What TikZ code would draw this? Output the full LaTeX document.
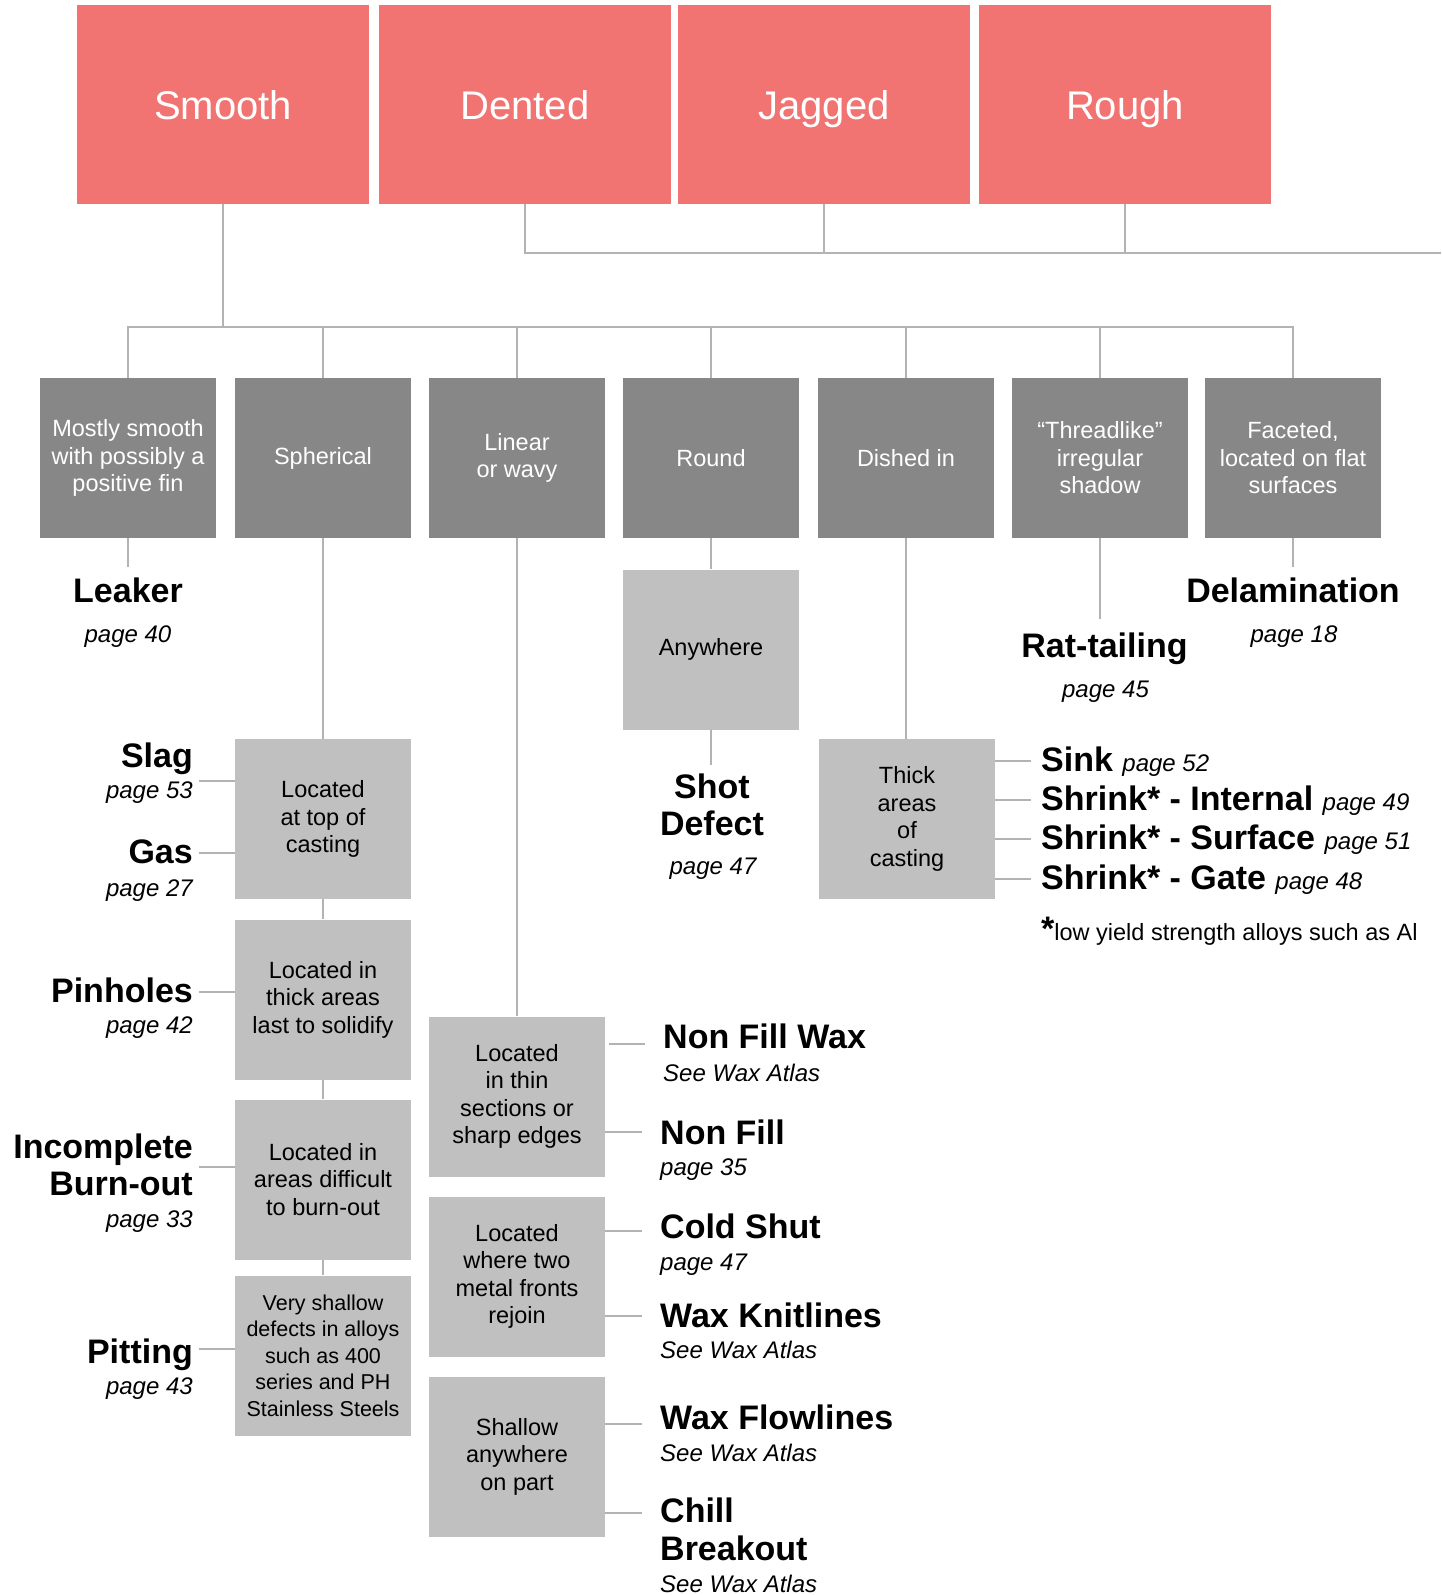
\documentclass[tikz,border=0pt]{standalone}
\usepackage{fontspec}
\setmainfont{Liberation Sans}

\definecolor{tierred}{HTML}{F27472}
\definecolor{shapegray}{HTML}{878787}
\definecolor{placegray}{HTML}{C0C0C0}
\definecolor{wiregray}{HTML}{B3B3B3}

\newcommand\dgTier{\fontsize{40}{48}\selectfont}
\newcommand\dgBox{\fontsize{23.5}{27.5}\selectfont}
\newcommand\dgSmall{\fontsize{21.5}{26.5}\selectfont}
\newcommand\dgDefect{\bfseries\fontsize{34}{37}\selectfont}
\newcommand\dgPage{\normalfont\itshape\fontsize{24}{28}\selectfont}

\begin{document}
\begin{tikzpicture}[x=1pt,y=-1pt,
  tier/.style={fill=tierred, text=white, minimum width=292pt, minimum height=199pt,
    inner sep=0pt, text height=29pt, text depth=0pt, font=\dgTier},
  kindbox/.style={fill=shapegray, text=white, minimum width=176pt, minimum height=160pt,
    inner sep=0pt, align=center, font=\dgBox},
  placebox/.style={fill=placegray, text=black, minimum width=176pt, minimum height=160pt,
    inner sep=0pt, align=center, font=\dgBox},
  wire/.style={draw=wiregray, line width=2pt},
  defect/.style={inner sep=0pt, font=\dgDefect},
  pageref/.style={inner sep=0pt, font=\dgPage},
]
\useasboundingbox (0,0) rectangle (1441,1595);

% surface texture categories
\node[tier] (smooth) at (223,104.5) {Smooth};
\node[tier] (dented) at (525,104.5) {Dented};
\node[tier] (jagged) at (824,104.5) {Jagged};
\node[tier] (rough)  at (1125,104.5) {Rough};

% shared bus for the non-smooth textures
\coordinate (rightbus) at (1441,253);
\draw[wire] (dented.south) |- (rightbus);
\draw[wire] (jagged.south) -- (jagged.south |- rightbus);
\draw[wire] (rough.south) -- (rough.south |- rightbus);

% defect shapes under "Smooth"
\node[kindbox] (fin)    at (128,458)  {Mostly smooth\\with possibly a\\positive fin};
\node[kindbox] (sphere) at (323,458)  {Spherical};
\node[kindbox] (linear) at (517,458)  {Linear\\or wavy};
\node[kindbox] (round)  at (711,458)  {Round};
\node[kindbox] (dished) at (906,458)  {Dished in};
\node[kindbox] (thread) at (1100,458) {“Threadlike”\\irregular\\shadow};
\node[kindbox] (facet)  at (1293,458) {Faceted,\\located on flat\\surfaces};

\coordinate (smoothbus) at (223,327);
\draw[wire] (smooth.south) -- (smoothbus);
\draw[wire] (fin.north) |- (facet.north |- smoothbus) -- (facet.north);
\foreach \k in {sphere,linear,round,dished,thread}
  \draw[wire] (\k.north) -- (\k.north |- smoothbus);

% direct results
\node[defect, anchor=base]  (leaker)   at (128,602)    {Leaker};
\node[pageref, anchor=base] (leakerpg) at (128,642.5)  {page 40};
\draw[wire, shorten >=10pt] (fin.south) -- (leaker.north);

\node[defect, anchor=base]  (delam)   at (1293,602)   {Delamination};
\node[pageref, anchor=base] (delampg) at (1294,642.5) {page 18};
\draw[wire, shorten >=10pt] (facet.south) -- (delam.north);

\node[defect, anchor=base]  (rat)   at (1104.5,657)   {Rat-tailing};
\node[pageref, anchor=base] (ratpg) at (1105.5,697.5) {page 45};
\draw[wire, shorten >=13pt] (thread.south) -- (thread.south |- rat.north);

% round -> anywhere -> shot defect
\node[placebox] (anywhere) at (711,649.5) {Anywhere};
\draw[wire] (round.south) -- (anywhere.north);
\node[defect, anchor=base]  (shot)   at (712,798)   {Shot};
\node[defect, anchor=base]  (shotb)  at (712,835)   {Defect};
\node[pageref, anchor=base] (shotpg) at (713,874.5) {page 47};
\draw[wire, shorten >=8pt] (anywhere.south) -- (anywhere.south |- shot.north);

% dished in -> thick areas -> shrink family
\node[placebox] (thick) at (907,819) {Thick\\areas\\of\\casting};
\draw[wire] (dished.south) -- (dished.south |- thick.north);
\node[defect, anchor=base west] (sink)     at (1041,771) {Sink {\dgPage page 52}};
\node[defect, anchor=base west] (internal) at (1041,810) {Shrink* - Internal {\dgPage page 49}};
\node[defect, anchor=base west] (surface)  at (1041,849) {Shrink* - Surface {\dgPage page 51}};
\node[defect, anchor=base west] (gate)     at (1041,889) {Shrink* - Gate {\dgPage page 48}};
\foreach \k in {sink,internal,surface,gate}
  \draw[wire, shorten >=10pt] (thick.east |- \k.west) -- (\k.west);
\node[anchor=base west, inner sep=0pt, font=\dgBox] (note) at (1041,940.5)
  {{\dgDefect *}low yield strength alloys such as Al};

% spherical chain
\node[placebox] (topcast)   at (323,819)    {Located\\at top of\\casting};
\node[placebox] (thickarea) at (323,999.5)  {Located in\\thick areas\\last to solidify};
\node[placebox] (burnarea)  at (323,1179.5) {Located in\\areas difficult\\to burn-out};
\node[placebox, font=\dgSmall] (shallowdef) at (323,1355.5)
  {Very shallow\\defects in alloys\\such as 400\\series and PH\\Stainless Steels};
\draw[wire] (sphere.south) -- (topcast.north);
\draw[wire] (topcast.south) -- (thickarea.north);
\draw[wire] (thickarea.south) -- (burnarea.north);
\draw[wire] (burnarea.south) -- (shallowdef.north);

\node[defect, anchor=base east]  (slag)     at (193,767)    {Slag};
\node[pageref, anchor=base east] (slagpg)   at (193,798.5)  {page 53};
\node[defect, anchor=base east]  (gas)      at (193,863)    {Gas};
\node[pageref, anchor=base east] (gaspg)    at (193,896.5)  {page 27};
\node[defect, anchor=base east]  (pinholes) at (193,1002)   {Pinholes};
\node[pageref, anchor=base east] (pinpg)    at (193,1033.5) {page 42};
\node[defect, anchor=base east]  (incomp)   at (193,1158)   {Incomplete};
\node[defect, anchor=base east]  (burnout)  at (193,1195)   {Burn-out};
\node[pageref, anchor=base east] (burnpg)   at (193,1227.5) {page 33};
\node[defect, anchor=base east]  (pitting)  at (193,1363)   {Pitting};
\node[pageref, anchor=base east] (pitpg)    at (193,1394.5) {page 43};

\coordinate (slagtie) at (199,781);
\coordinate (gastie)  at (199,853);
\coordinate (pintie)  at (199,992);
\coordinate (burntie) at (199,1167);
\coordinate (pittie)  at (199,1349);
\draw[wire] (slagtie) -- (slagtie -| topcast.west);
\draw[wire] (gastie)  -- (gastie -| topcast.west);
\draw[wire] (pintie)  -- (pintie -| thickarea.west);
\draw[wire] (burntie) -- (burntie -| burnarea.west);
\draw[wire] (pittie)  -- (pittie -| shallowdef.west);

% linear or wavy chain
\node[placebox] (thin)    at (517,1096.5) {Located\\in thin\\sections or\\sharp edges};
\node[placebox] (fronts)  at (517,1276.5) {Located\\where two\\metal fronts\\rejoin};
\node[placebox] (shallow) at (517,1456.5) {Shallow\\anywhere\\on part};
\draw[wire] (linear.south) -- (thin.north);

\node[defect, anchor=base west]  (nfw)      at (663,1048)   {Non Fill Wax};
\node[pageref, anchor=base west] (nfwpg)    at (663,1081.5) {See Wax Atlas};
\node[defect, anchor=base west]  (nonfill)  at (660,1144)   {Non Fill};
\node[pageref, anchor=base west] (nonfillpg) at (660,1175.5) {page 35};
\node[defect, anchor=base west]  (cold)     at (660,1238)   {Cold Shut};
\node[pageref, anchor=base west] (coldpg)   at (660,1270.5) {page 47};
\node[defect, anchor=base west]  (knit)     at (660,1327)   {Wax Knitlines};
\node[pageref, anchor=base west] (knitpg)   at (660,1358.5) {See Wax Atlas};
\node[defect, anchor=base west]  (flow)     at (660,1429)   {Wax Flowlines};
\node[pageref, anchor=base west] (flowpg)   at (660,1461.5) {See Wax Atlas};
\node[defect, anchor=base west]  (chill)    at (660,1522)   {Chill};
\node[defect, anchor=base west]  (breakout) at (660,1560)   {Breakout};
\node[pageref, anchor=base west] (chillpg)  at (660,1592.5) {See Wax Atlas};

\coordinate (nfwtie)   at (645,1044);
\coordinate (nftie)    at (642,1132);
\coordinate (coldtie)  at (642,1231);
\coordinate (knittie)  at (642,1316);
\coordinate (flowtie)  at (642,1424);
\coordinate (chilltie) at (642,1513);
\draw[wire, shorten <=4pt] (nfwtie -| thin.east) -- (nfwtie);
\draw[wire] (nftie -| thin.east) -- (nftie);
\draw[wire] (coldtie -| fronts.east) -- (coldtie);
\draw[wire] (knittie -| fronts.east) -- (knittie);
\draw[wire] (flowtie -| shallow.east) -- (flowtie);
\draw[wire] (chilltie -| shallow.east) -- (chilltie);
\end{tikzpicture}
\end{document}
